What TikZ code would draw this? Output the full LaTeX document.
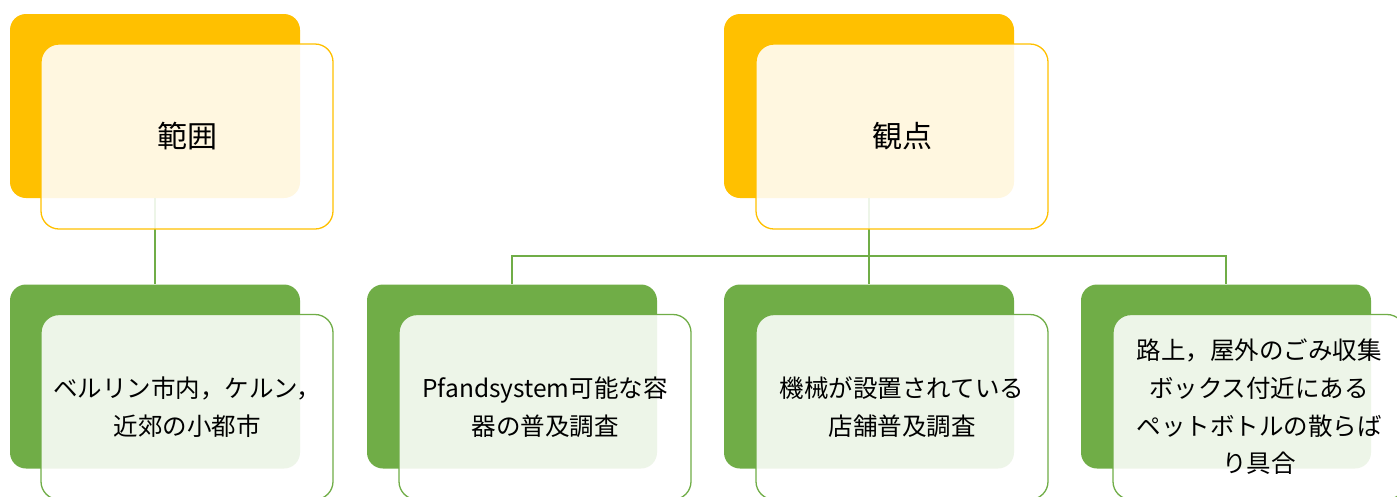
\documentclass[tikz,border=0pt]{standalone}
\usepackage{fontspec}
\setmainfont{Noto Sans CJK JP}
\definecolor{gold}{HTML}{FFC000}
\definecolor{leaf}{HTML}{70AD47}
\tikzset{
  backbox/.style={draw=none, fill=#1, rounded corners=16pt, minimum width=290pt, minimum height=184pt, inner sep=0pt},
  frontbox/.style={draw=#1, line width=1.3pt, fill=white, fill opacity=0.88, text opacity=1, rounded corners=18pt, minimum width=292pt, minimum height=185pt, inner sep=0pt, align=center},
  conn/.style={draw=leaf, line width=1.3pt},
  toptext/.style={font=\fontsize{30}{36}\selectfont},
  bottext/.style={font=\fontsize{24.5}{37.6}\selectfont}
}
\begin{document}
\begin{tikzpicture}[x=1pt,y=-1pt]
\useasboundingbox (0,0) rectangle (1397,496);
% back boxes
\node[backbox=gold] (r1b) at (155,106) {};
\node[backbox=gold] (r2b) at (869,106) {};
\node[backbox=leaf] (g0b) at (155,376.5) {};
\node[backbox=leaf] (g1b) at (512,376.5) {};
\node[backbox=leaf] (g2b) at (869,376.5) {};
\node[backbox=leaf] (g3b) at (1226,376.5) {};
% connectors
\draw[conn] (r1b.south) -- (g0b.north);
\draw[conn] (r2b.south) -- (g2b.north);
\coordinate (busL) at (512,256);
\draw[conn] (g1b.north) -- (busL) -| (g3b.north);
% front boxes
\node[frontbox=gold, toptext] (r1f) at (187,136.5) {範囲};
\node[frontbox=gold, toptext] (r2f) at (902,136.5) {観点};
\node[frontbox=leaf, bottext] (g0f) at (187,407) {ベルリン市内，ケルン，\\近郊の小都市};
\node[frontbox=leaf, bottext] (g1f) at (545,407) {Pfandsystem可能な容\\器の普及調査};
\node[frontbox=leaf, bottext] (g2f) at (902,407) {機械が設置されている\\店舗普及調査};
\node[frontbox=leaf, bottext] (g3f) at (1259,407) {路上，屋外のごみ収集\\ボックス付近にある\\ペットボトルの散らば\\り具合};
\end{tikzpicture}
\end{document}
